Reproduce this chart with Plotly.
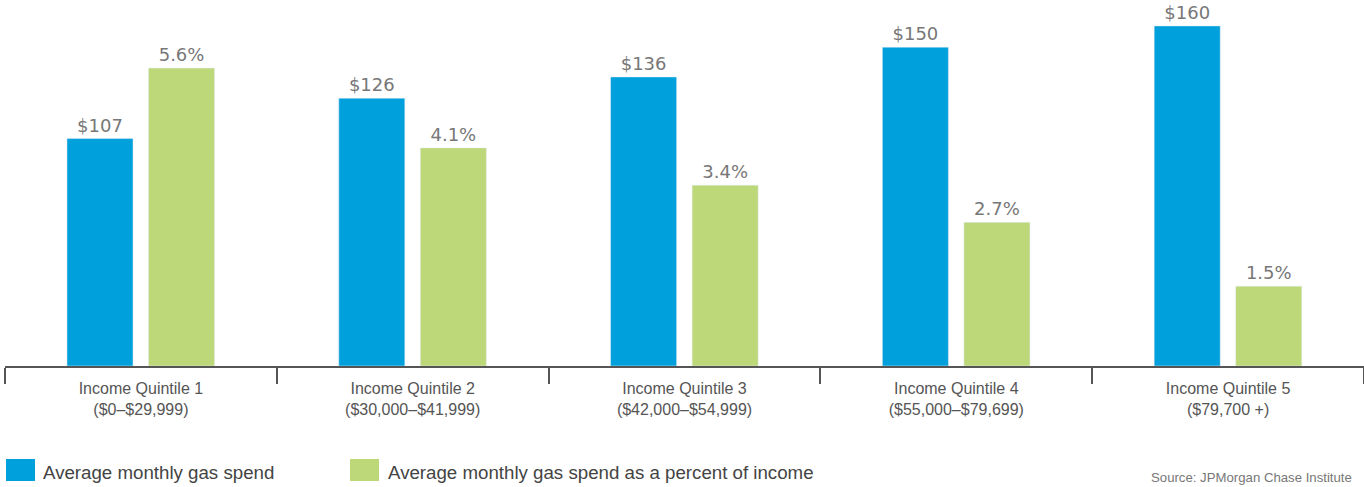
import plotly.graph_objects as go

categories = ["Income Quintile 1<br>($0–$29,999)",
              "Income Quintile 2<br>($30,000–$41,999)",
              "Income Quintile 3<br>($42,000–$54,999)",
              "Income Quintile 4<br>($55,000–$79,699)",
              "Income Quintile 5<br>($79,700 +)"]
gas_spend = [107, 126, 136, 150, 160]
gas_pct = [5.6, 4.1, 3.4, 2.7, 1.5]
spend_labels = [f"${v}" for v in gas_spend]
pct_labels = [f"{v}%" for v in gas_pct]
series_names = ["Average monthly gas spend", "Average monthly gas spend as a percent of income"]

BLUE = "#00A0DC"
GREEN = "#BDD878"

W, H = 1364, 487
ML, MR, MT, MB = 5, 0, 0, 121
pw = W - ML - MR
ph = H - MT - MB

label_font = dict(family="DejaVu Sans", size=18, color="#777777")

fig = go.Figure()
fig.add_trace(go.Bar(
    x=categories, y=gas_spend, name=series_names[0], marker_color=BLUE,
    width=0.243, offset=-0.272, text=spend_labels, textposition="outside",
    textfont=label_font, cliponaxis=False, yaxis="y", showlegend=False,
    hoverinfo="skip"))
fig.add_trace(go.Bar(
    x=categories, y=gas_pct, name=series_names[1], marker_color=GREEN,
    width=0.243, offset=0.028, text=pct_labels, textposition="outside",
    textfont=label_font, cliponaxis=False, yaxis="y2", showlegend=False,
    hoverinfo="skip"))

def px_x(x):
    return (x - ML) / pw

def px_y(y):
    return (MT + ph - y) / ph

shapes = []
annotations = []
legend_items = [(6, 35, 42, BLUE, series_names[0]), (350, 379, 387, GREEN, series_names[1])]
for x0, x1, tx, col, name in legend_items:
    shapes.append(dict(type="rect", xref="paper", yref="paper",
                       x0=px_x(x0), x1=px_x(x1), y0=px_y(459), y1=px_y(481),
                       fillcolor=col, line=dict(width=0)))
    annotations.append(dict(xref="paper", yref="paper", x=px_x(tx - 1), y=px_y(472),
                            text=name, showarrow=False, xanchor="left", yanchor="middle",
                            font=dict(family="Liberation Sans, Arial", size=18.7, color="#444444")))
annotations.append(dict(xref="paper", yref="paper", x=px_x(1354), y=px_y(477),
                        text="Source: JPMorgan Chase Institute", showarrow=False,
                        xanchor="right", yanchor="middle",
                        font=dict(family="Liberation Sans, Arial", size=13.2, color="#777777")))

fig.update_layout(
    width=W, height=H, autosize=False,
    margin=dict(l=ML, r=MR, t=MT, b=MB),
    plot_bgcolor="white", paper_bgcolor="white",
    barmode="overlay",
    xaxis=dict(type="category", range=[-0.5, 4.5], showgrid=False,
               showline=True, linecolor="#555555", linewidth=2,
               ticks="outside", tickson="boundaries", ticklen=16, tickwidth=1.5,
               tickcolor="#555555", ticklabelstandoff=7,
               tickfont=dict(family="Liberation Sans, Arial", size=16, color="#555555")),
    yaxis=dict(range=[0, 172.2], visible=False, showgrid=False, zeroline=False),
    yaxis2=dict(range=[0, 6.88], overlaying="y", visible=False, showgrid=False, zeroline=False),
    shapes=shapes, annotations=annotations,
)

fig.write_html("out.html", config={"displayModeBar": False},
               post_script="document.body.style.margin='0';document.body.style.overflow='hidden';")
